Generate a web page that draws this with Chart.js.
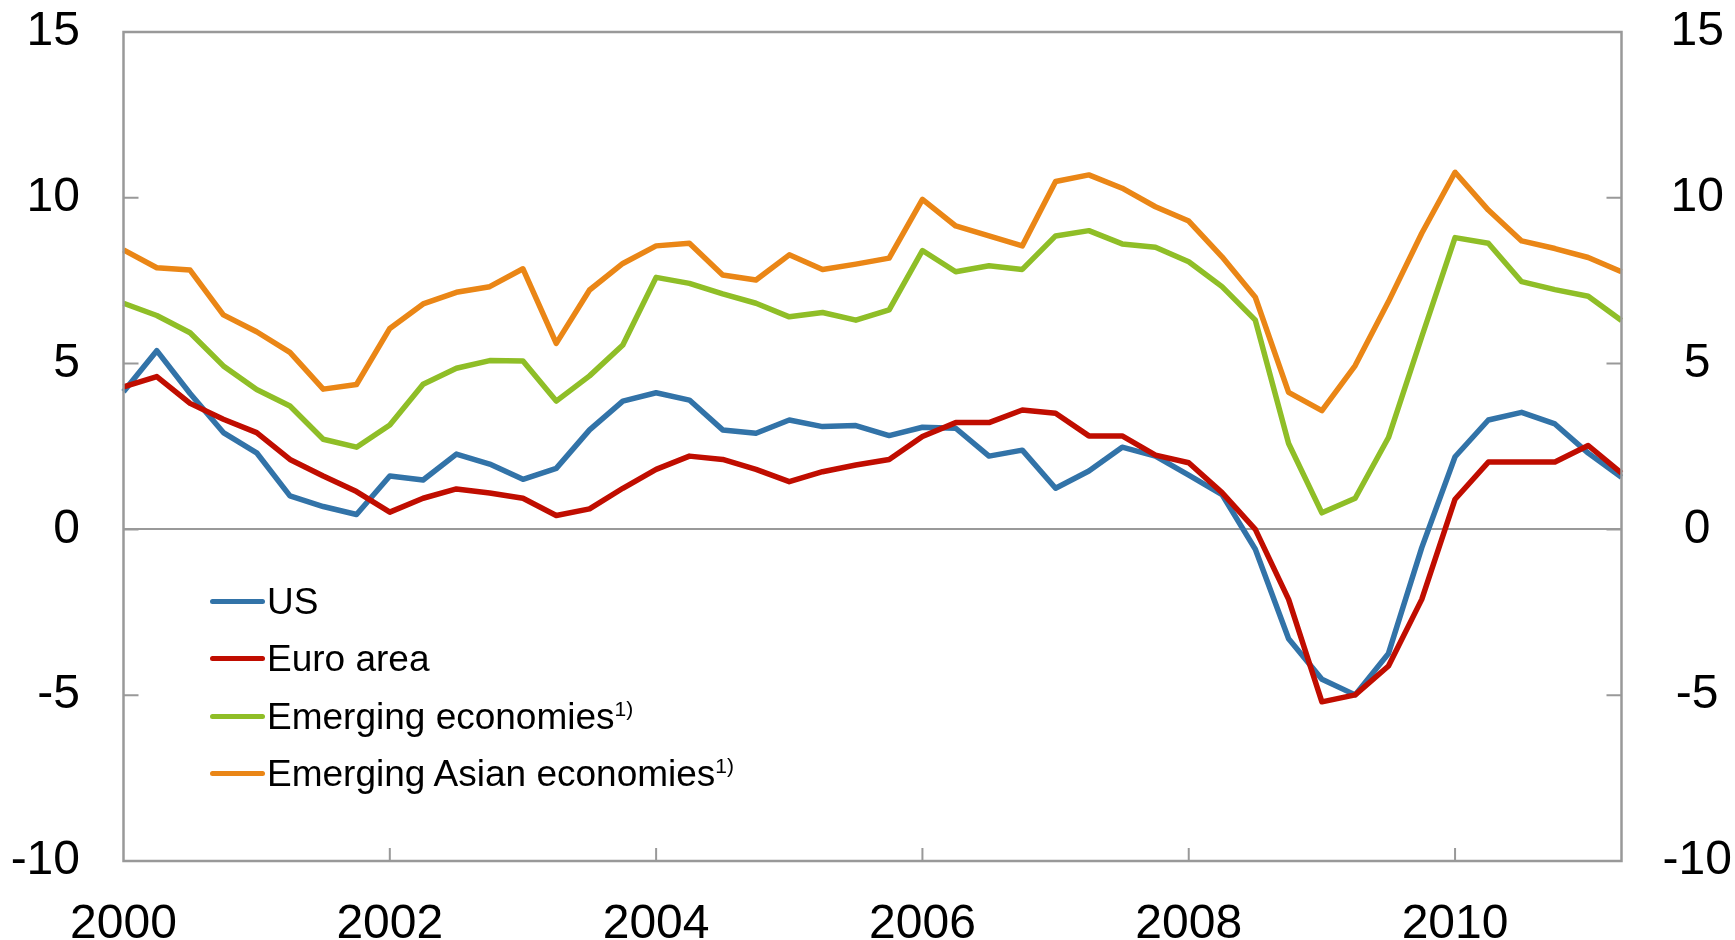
<!DOCTYPE html>
<html>
<head>
<meta charset="utf-8">
<script src="https://cdn.jsdelivr.net/npm/chart.js@4/dist/chart.umd.min.js"></script>
<style>
    body { margin: 0; background: #fff; }
    #wrap { position: relative; width: 1735px; height: 940px; }
    #legend { position: absolute; left: 210px; top: 573px; font-family: 'Liberation Sans', Arial, sans-serif; }
    .row { display: flex; align-items: center; height: 57.3px; }
    .swatch { width: 55px; height: 5px; border-radius: 3px; flex: none; }
    .label { font-size: 37px; line-height: 1; color: #000; white-space: nowrap; margin-left: 2px; }
    .label sup { font-size: 21px; vertical-align: 13px; line-height: 0; }
</style>
</head>
<body>
<div id="wrap">
    <canvas id="chart" width="1735" height="940"></canvas>
    <div id="legend"></div>
</div>
<script>
const quarters = [
    '2000 Q1', '2000 Q2', '2000 Q3', '2000 Q4', '2001 Q1', '2001 Q2', '2001 Q3', '2001 Q4',
    '2002 Q1', '2002 Q2', '2002 Q3', '2002 Q4', '2003 Q1', '2003 Q2', '2003 Q3', '2003 Q4',
    '2004 Q1', '2004 Q2', '2004 Q3', '2004 Q4', '2005 Q1', '2005 Q2', '2005 Q3', '2005 Q4',
    '2006 Q1', '2006 Q2', '2006 Q3', '2006 Q4', '2007 Q1', '2007 Q2', '2007 Q3', '2007 Q4',
    '2008 Q1', '2008 Q2', '2008 Q3', '2008 Q4', '2009 Q1', '2009 Q2', '2009 Q3', '2009 Q4',
    '2010 Q1', '2010 Q2', '2010 Q3', '2010 Q4', '2011 Q1', '2011 Q2'
];
const yearLabels = ['2000', '2002', '2004', '2006', '2008', '2010'];
const yTicks = [15, 10, 5, 0, -5, -10];

const us = [4.15, 5.39, 4.1, 2.92, 2.31, 1.01, 0.69, 0.45, 1.61, 1.49, 2.27, 1.97,
    1.51, 1.84, 3.0, 3.87, 4.12, 3.9, 3.0, 2.9, 3.3, 3.1, 3.13, 2.83,
    3.08, 3.05, 2.21, 2.39, 1.24, 1.76, 2.48, 2.21, 1.64, 1.05, -0.6, -3.3,
    -4.52, -4.99, -3.74, -0.55, 2.19, 3.3, 3.53, 3.18, 2.3, 1.57];
const euroArea = [4.3, 4.61, 3.8, 3.32, 2.92, 2.11, 1.61, 1.14, 0.52, 0.94, 1.22, 1.1,
    0.94, 0.42, 0.62, 1.24, 1.81, 2.21, 2.11, 1.81, 1.44, 1.74, 1.94, 2.11,
    2.8, 3.22, 3.22, 3.6, 3.5, 2.82, 2.82, 2.24, 2.01, 1.11, 0.0, -2.11,
    -5.2, -4.99, -4.12, -2.11, 0.91, 2.03, 2.03, 2.03, 2.53, 1.7];
const emerging = [6.82, 6.45, 5.93, 4.93, 4.22, 3.72, 2.72, 2.48, 3.15, 4.38, 4.86, 5.09,
    5.08, 3.87, 4.63, 5.56, 7.6, 7.42, 7.1, 6.82, 6.41, 6.54, 6.31, 6.62,
    8.41, 7.77, 7.95, 7.84, 8.85, 9.01, 8.61, 8.51, 8.07, 7.32, 6.31, 2.59,
    0.5, 0.94, 2.77, 5.81, 8.8, 8.63, 7.47, 7.23, 7.03, 6.3];
const emergingAsia = [8.43, 7.89, 7.82, 6.47, 5.96, 5.34, 4.23, 4.37, 6.06, 6.8, 7.15, 7.32,
    7.86, 5.61, 7.22, 8.02, 8.55, 8.63, 7.67, 7.52, 8.28, 7.84, 8.0, 8.18,
    9.95, 9.15, 8.85, 8.55, 10.49, 10.69, 10.29, 9.73, 9.3, 8.22, 7.0, 4.13,
    3.58, 4.94, 6.87, 8.93, 10.77, 9.63, 8.7, 8.47, 8.2, 7.77];

const series = [
    { label: 'US', data: us, color: '#3273A8', sup: '' },
    { label: 'Euro area', data: euroArea, color: '#C00D00', sup: '' },
    { label: 'Emerging economies', data: emerging, color: '#8FBE27', sup: '1)' },
    { label: 'Emerging Asian economies', data: emergingAsia, color: '#EA8616', sup: '1)' }
];

const axisGrey = '#999999';
const font = { family: "'Liberation Sans', Arial, sans-serif", size: 48 };

function noScalePadding(scale) {
    scale.paddingTop = 0;
    scale.paddingBottom = 0;
    scale.paddingLeft = 0;
    scale.paddingRight = 0;
}

// frame round the plot and the inward tick marks
const framePlugin = {
    id: 'frame',
    afterDraw(chart) {
        const ctx = chart.ctx;
        const area = chart.chartArea;
        const y = chart.scales.y;
        const x = chart.scales.x;
        ctx.save();
        ctx.strokeStyle = axisGrey;
        ctx.lineWidth = 2.5;
        ctx.strokeRect(area.left, area.top, area.right - area.left, area.bottom - area.top);
        ctx.lineWidth = 2;
        ctx.beginPath();
        yTicks.forEach(v => {
            const py = y.getPixelForValue(v);
            ctx.moveTo(area.left, py);
            ctx.lineTo(area.left + 15, py);
            ctx.moveTo(area.right, py);
            ctx.lineTo(area.right - 15, py);
        });
        for (let i = 8; i < quarters.length; i += 8) {
            const px = x.getPixelForValue(i);
            ctx.moveTo(px, area.bottom);
            ctx.lineTo(px, area.bottom - 13);
        }
        ctx.stroke();
        ctx.restore();
    }
};

new Chart(document.getElementById('chart'), {
    type: 'line',
    data: {
        labels: quarters,
        datasets: series.map((s, i) => ({
            label: s.label,
            data: s.data,
            borderColor: s.color,
            backgroundColor: s.color,
            borderWidth: 5.5,
            pointRadius: 0,
            tension: 0,
            borderJoinStyle: 'round',
            order: series.length - i
        }))
    },
    options: {
        responsive: false,
        devicePixelRatio: 1,
        animation: false,
        layout: { padding: { top: 32, right: 0, left: 0, bottom: 0 } },
        plugins: {
            legend: { display: false },
            tooltip: { enabled: false }
        },
        scales: {
            x: {
                offset: false,
                grid: { display: false },
                border: { display: false },
                ticks: {
                    autoSkip: false,
                    maxRotation: 0,
                    padding: 27,
                    color: '#000',
                    font: font,
                    callback: function(value, index) {
                        return index % 8 === 0 ? yearLabels[index / 8] : null;
                    }
                },
                afterFit: scale => { scale.height = 79; noScalePadding(scale); }
            },
            y: {
                position: 'left',
                min: -10,
                max: 15,
                afterBuildTicks: scale => { scale.ticks = yTicks.map(v => ({ value: v })); },
                grid: {
                    drawTicks: false,
                    lineWidth: 2,
                    color: c => c.tick && c.tick.value === 0 ? axisGrey : 'rgba(0,0,0,0)'
                },
                border: { display: false },
                ticks: { padding: 43.5, color: '#000', font: font, crossAlign: 'near' },
                afterFit: scale => { scale.width = 123.5; noScalePadding(scale); }
            },
            y2: {
                position: 'right',
                min: -10,
                max: 15,
                afterBuildTicks: scale => { scale.ticks = yTicks.map(v => ({ value: v })); },
                grid: { display: false, drawTicks: false },
                border: { display: false },
                ticks: { padding: 41, color: '#000', font: font, crossAlign: 'center' },
                afterFit: scale => { scale.width = 113.5; noScalePadding(scale); }
            }
        }
    },
    plugins: [framePlugin]
});

// legend drawn as html text inside the plot
const legend = document.getElementById('legend');
series.forEach(s => {
    const row = document.createElement('div');
    row.className = 'row';
    row.innerHTML = '<span class="swatch" style="background:' + s.color + '"></span>' +
        '<span class="label">' + s.label + (s.sup ? '<sup>' + s.sup + '</sup>' : '') + '</span>';
    legend.appendChild(row);
});
</script>
</body>
</html>
